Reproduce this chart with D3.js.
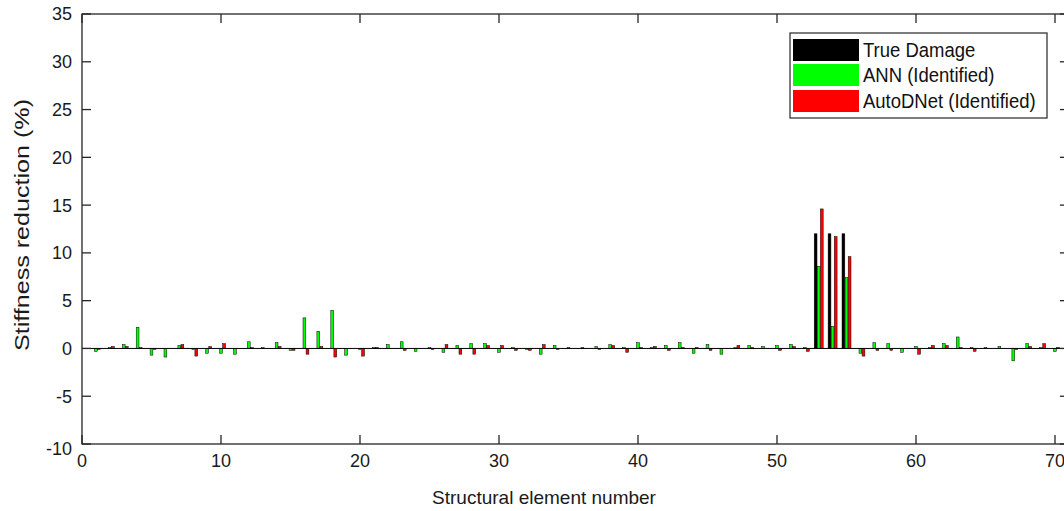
<!DOCTYPE html>
<html>
<head>
<meta charset="utf-8">
<script src="https://cdn.jsdelivr.net/npm/d3@7"></script>
<style>
  html, body { margin: 0; padding: 0; background: #fff; }
  svg { display: block; font-family: "Liberation Sans", Arial, Helvetica, sans-serif; }
</style>
</head>
<body>
<svg id="chart" width="1064" height="511"></svg>
<script>
// Structural element numbers 1..70
const elements = d3.range(1, 71);

// Stiffness reduction (%) per element
const trueDamage = elements.map(e => (e === 53 || e === 54 || e === 55) ? 12 : 0);

const annIdentified = [
  -0.3, 0.1, 0.4, 2.2, -0.7, -0.9, 0.3, -0.1, -0.5, -0.5,
  -0.6, 0.7, 0.1, 0.6, -0.2, 3.2, 1.8, 4.0, -0.7, -0.1,
  0.1, 0.4, 0.7, -0.3, 0.1, -0.4, 0.3, 0.5, 0.5, -0.4,
  0.1, -0.1, -0.6, 0.3, 0.1, 0.1, 0.2, 0.4, 0.1, 0.6,
  0.1, 0.3, 0.6, -0.5, 0.4, -0.6, 0.1, 0.3, 0.2, 0.3,
  0.4, 0.1, 8.6, 2.3, 7.4, -0.5, 0.6, 0.5, -0.4, 0.2,
  0.1, 0.5, 1.2, 0.1, 0.1, 0.2, -1.3, 0.5, 0.1, -0.3
];

const autoDNetIdentified = [
  -0.1, 0.2, 0.2, 0.1, -0.1, 0.0, 0.4, -0.8, 0.2, 0.5,
  0.0, 0.1, 0.0, 0.2, -0.2, -0.6, 0.2, -0.9, 0.0, -0.8,
  0.1, 0.0, -0.2, 0.0, -0.1, 0.4, -0.6, -0.6, 0.3, 0.3,
  -0.2, -0.2, 0.4, -0.1, 0.0, 0.0, -0.1, 0.3, -0.4, 0.1,
  0.2, -0.2, 0.1, 0.1, -0.2, 0.0, 0.3, 0.1, 0.0, -0.2,
  0.2, -0.3, 14.6, 11.7, 9.6, -0.8, -0.2, -0.2, 0.0, -0.6,
  0.3, 0.3, 0.1, -0.3, 0.0, 0.0, -0.1, 0.2, 0.5, 0.1
];

const seriesNames = ["True Damage", "ANN (Identified)", "AutoDNet (Identified)"];
const seriesColors = ["#000000", "#00ff00", "#ff0000"];
const seriesValues = [trueDamage, annIdentified, autoDNetIdentified];

const xTicks = [0, 10, 20, 30, 40, 50, 60, 70];
const yTicks = [-10, -5, 0, 5, 10, 15, 20, 25, 30, 35];
const xLimits = [0, 71];
const yLimits = [-10, 35];

const svg = d3.select("#chart");
const axisColor = "#262626";

const plotLeft = 82, plotTop = 14, plotBottom = 444;
const unitPx = 13.9;
const x = d3.scaleLinear().domain(xLimits).range([plotLeft, plotLeft + (xLimits[1] - xLimits[0]) * unitPx]);
const y = d3.scaleLinear().domain(yLimits).range([plotBottom, plotTop]);

// grouped bars: three series side by side around each element
const offsets = [-0.222, 0, 0.222];
const barW = 0.2;

const plot = svg.append("g");
seriesValues.forEach((vals, si) => {
  plot.append("g")
    .selectAll("rect")
    .data(elements.map((e, i) => ({ e, v: vals[i] })).filter(d => d.v !== 0))
    .join("rect")
    .attr("x", d => x(d.e + offsets[si] - barW / 2))
    .attr("width", d => x(d.e + offsets[si] + barW / 2) - x(d.e + offsets[si] - barW / 2))
    .attr("y", d => y(Math.max(0, d.v)))
    .attr("height", d => Math.abs(y(d.v) - y(0)))
    .attr("fill", seriesColors[si])
    .attr("stroke", "#000")
    .attr("stroke-width", 0.5);
});

// zero baseline
svg.append("line")
  .attr("x1", x(xLimits[0])).attr("x2", x(xLimits[1]))
  .attr("y1", y(0)).attr("y2", y(0))
  .attr("stroke", "#000").attr("stroke-width", 1);

// axes box
const box = svg.append("g").attr("stroke", axisColor).attr("stroke-width", 1.3).attr("fill", "none");
box.append("rect")
  .attr("x", x(xLimits[0])).attr("y", y(yLimits[1]))
  .attr("width", x(xLimits[1]) - x(xLimits[0]))
  .attr("height", y(yLimits[0]) - y(yLimits[1]));

const tickLen = 9;
// x ticks, bottom and top, pointing inward
xTicks.forEach(t => {
  box.append("line").attr("x1", x(t)).attr("x2", x(t)).attr("y1", y(yLimits[0])).attr("y2", y(yLimits[0]) - tickLen);
  box.append("line").attr("x1", x(t)).attr("x2", x(t)).attr("y1", y(yLimits[1])).attr("y2", y(yLimits[1]) + tickLen);
});
// y ticks, left and right, pointing inward
yTicks.forEach(t => {
  box.append("line").attr("x1", x(xLimits[0])).attr("x2", x(xLimits[0]) + tickLen).attr("y1", y(t)).attr("y2", y(t));
  box.append("line").attr("x1", x(xLimits[1])).attr("x2", x(xLimits[1]) - tickLen).attr("y1", y(t)).attr("y2", y(t));
});

// tick labels
svg.append("g")
  .selectAll("text")
  .data(yTicks)
  .join("text")
  .attr("x", x(xLimits[0]) - 10)
  .attr("y", d => y(d) + (d === yLimits[0] ? 5 : 0))
  .attr("dy", "0.36em")
  .attr("text-anchor", "end")
  .attr("font-size", 18)
  .attr("fill", "#1a1a1a")
  .text(d => d);

svg.append("g")
  .selectAll("text")
  .data(xTicks)
  .join("text")
  .attr("x", d => x(d))
  .attr("y", y(yLimits[0]) + 23)
  .attr("text-anchor", "middle")
  .attr("font-size", 18)
  .attr("fill", "#1a1a1a")
  .text(d => d);

// axis titles
svg.append("text")
  .attr("x", 544).attr("y", 504)
  .attr("text-anchor", "middle")
  .attr("font-size", 19)
  .attr("fill", "#1a1a1a")
  .text("Structural element number");

svg.append("text")
  .attr("transform", `translate(29, ${(y(yLimits[0]) + y(yLimits[1])) / 2 - 4}) rotate(-90)`)
  .attr("text-anchor", "middle")
  .attr("font-size", 20)
  .attr("textLength", 252)
  .attr("lengthAdjust", "spacingAndGlyphs")
  .attr("fill", "#1a1a1a")
  .text("Stiffness reduction (%)");

// legend
const legend = svg.append("g");
legend.append("rect")
  .attr("x", 790).attr("y", 33).attr("width", 257).attr("height", 85)
  .attr("fill", "#fff").attr("stroke", axisColor).attr("stroke-width", 1.2);
const rowTops = [39, 64, 90];
seriesNames.forEach((name, i) => {
  legend.append("rect")
    .attr("x", 793).attr("y", rowTops[i]).attr("width", 66).attr("height", 22)
    .attr("fill", seriesColors[i]);
  legend.append("text")
    .attr("transform", `translate(863, ${rowTops[i] + 18}) scale(1, 1.12)`)
    .attr("font-size", 18.5)
    .attr("fill", "#111")
    .text(name);
});
</script>
</body>
</html>
